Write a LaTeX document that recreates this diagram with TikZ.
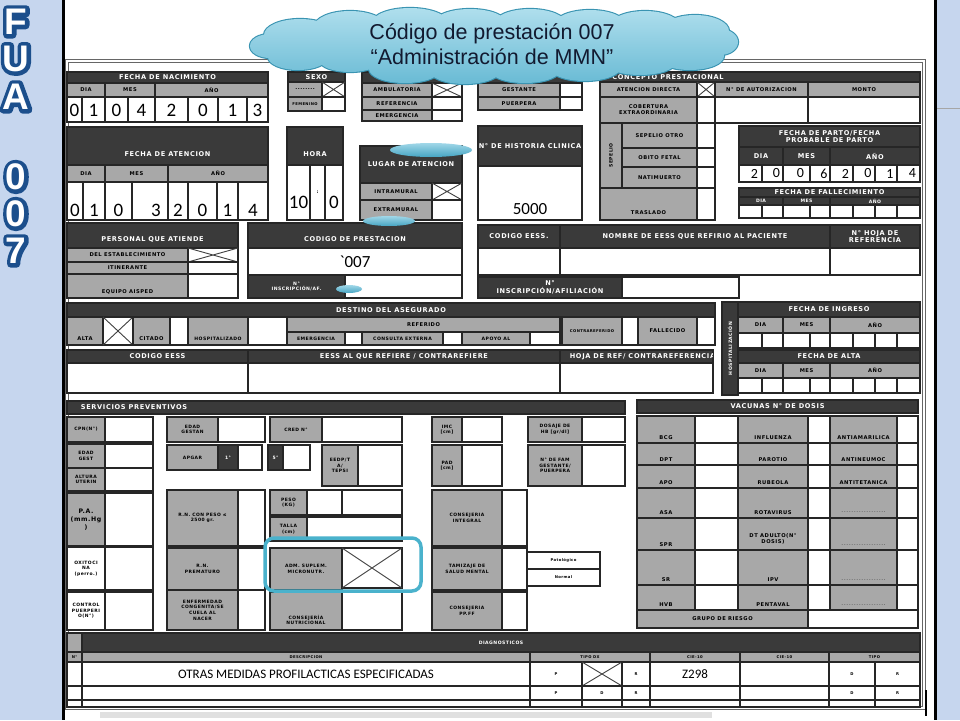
\documentclass[tikz,border=0pt]{standalone}
\usepackage{fontspec}
\setmainfont{Liberation Sans}
\newfontfamily\lab[LetterSpace=10]{DejaVu Sans}
\newfontfamily\digf{Carlito}
\newfontfamily\arialf{Liberation Sans}
\usetikzlibrary{calc}
\definecolor{bgblue}{RGB}{198,214,238}
\definecolor{hdr}{RGB}{58,58,58}
\definecolor{lgrey}{RGB}{168,168,168}
\definecolor{edge}{RGB}{38,38,38}
\definecolor{cyanbox}{RGB}{74,178,204}
\definecolor{cloudtop}{RGB}{178,224,238}
\definecolor{cloudbot}{RGB}{104,186,212}
\definecolor{cloudedge}{RGB}{58,148,178}
\definecolor{navy}{RGB}{18,26,48}
\definecolor{fuablue}{RGB}{28,78,140}
\definecolor{elltop}{RGB}{160,215,232}
\definecolor{ellbot}{RGB}{70,165,195}

\newcount\cellno
\newcommand\fcell[7][]{%
  \path[#2] (#3,#4) rectangle (#5,#6);
  \global\advance\cellno by 1\relax
  \node[#2t,#1] (c\the\cellno) at ({(#3+#5)/2},{(#4+#6)/2}) {#7};%
}
\newcommand\fxbox[4]{%
  \path[wh] (#1,#2) rectangle (#3,#4);
  \draw[crossline] (#1,#2) -- (#3,#4) (#1,#4) -- (#3,#2);%
}
\newcommand\cliphdr[6][]{%
  \path[dk] (#2,#3) rectangle (#4,#5);
  \begin{scope}
    \clip (#2+1,#3+1) rectangle (#4-1,#5-1);
    \global\advance\cellno by 1\relax
    \node[dkt,#1] (c\the\cellno) at ({(#2+#4)/2},{(#3+#5)/2}) {#6};
  \end{scope}%
}
\newcommand\dotsf{\textcolor{black!55}{..................}}
\newcommand\vacrow[5]{%
  \pgfmathsetmacro\vys{-((#2-#1)/2-5.5)}%
  \fcell[yshift=\vys]{gr}{637}{#1}{695}{#2}{#3}
  \fcell{wh}{695}{#1}{738}{#2}{}
  \fcell[yshift=\vys]{gr}{738}{#1}{808}{#2}{#4}
  \fcell{wh}{808}{#1}{830}{#2}{}
  \fcell[yshift=\vys]{gr}{830}{#1}{897}{#2}{#5}
  \fcell{wh}{897}{#1}{918}{#2}{}%
}
\newcommand\outl[1]{\rlap{\special{pdf:literal direct 2 Tr 8 w 1 j 0.11 0.31 0.55 RG}#1\special{pdf:literal direct 0 Tr}}#1}
\newcommand\cloudpuffs{(300,35) ellipse [x radius=36,y radius=16]
  (350,27) ellipse [x radius=36,y radius=16]
  (410,23) ellipse [x radius=38,y radius=15]
  (470,23) ellipse [x radius=36,y radius=14]
  (530,24) ellipse [x radius=36,y radius=15]
  (590,25) ellipse [x radius=36,y radius=15]
  (645,27) ellipse [x radius=36,y radius=16]
  (695,31) ellipse [x radius=34,y radius=16]
  (298,57) ellipse [x radius=30,y radius=13]
  (350,61) ellipse [x radius=30,y radius=11]
  (405,69) ellipse [x radius=36,y radius=14]
  (465,70) ellipse [x radius=36,y radius=14]
  (525,69) ellipse [x radius=36,y radius=14]
  (585,67) ellipse [x radius=36,y radius=14]
  (640,62) ellipse [x radius=36,y radius=13]
  (690,56) ellipse [x radius=34,y radius=14]
  (270,46) ellipse [x radius=20,y radius=12]
  (720,42) ellipse [x radius=18,y radius=13]
  (494,45) ellipse [x radius=225,y radius=24]}

\begin{document}
\begin{tikzpicture}[x=1pt,y=-1pt,
  dk/.style={fill=hdr,draw=edge,line width=1.1},
  gr/.style={fill=lgrey,draw=edge,line width=1.1},
  wh/.style={fill=white,draw=edge,line width=1.1},
  dkt/.style={text=white,font=\lab\bfseries\fontsize{6.6}{7.4}\selectfont,align=center,inner sep=0pt},
  grt/.style={text=black,font=\lab\bfseries\fontsize{5.2}{6.2}\selectfont,align=center,inner sep=0pt},
  wht/.style={text=black,font=\digf\fontsize{19}{19}\selectfont,align=center,inner sep=0pt},
  sm/.style={font=\lab\bfseries\fontsize{4.6}{5.4}\selectfont},
  xs/.style={font=\lab\bfseries\fontsize{3.8}{4.6}\selectfont},
  sv/.style={font=\lab\bfseries\fontsize{4.5}{5.6}\selectfont},
  pa/.style={font=\lab\bfseries\fontsize{6.2}{8}\selectfont},
  dsmall/.style={font=\digf\fontsize{14}{14}\selectfont},
  desctxt/.style={font=\digf\fontsize{13}{13}\selectfont},
  crossline/.style={draw=black!75,line width=0.9},
  fuaf/.style={font=\arialf\bfseries\fontsize{37}{37}\selectfont,inner sep=0pt,text=white},
]
\useasboundingbox (0,0) rectangle (960,720);
% background and page
\fill[bgblue] (0,0) rectangle (960,720);
\fill[white] (63,0) rectangle (935,720);
\draw[black,line width=3] (63.5,0) -- (63.5,720);
\draw[black,line width=3] (935,0) -- (935,720);
\draw[black!35,line width=1] (937,108) -- (960,108);
% FUA 007
\node[fuaf] (lf) at (16,22) {\outl{F}};
\node[fuaf] (lu) at (16,59) {\outl{U}};
\node[fuaf] (la) at (16,97) {\outl{A}};
\node[fuaf] (ln1) at (16,177) {\outl{0}};
\node[fuaf] (ln2) at (16,214) {\outl{0}};
\node[fuaf] (ln3) at (16,251) {\outl{7}};
% form frame
\draw[black!60,line width=0.8,double=white,double distance=2] (67,61) rectangle (924,708);
\fill[black!12] (100,712) rectangle (712,718);
\draw[black,line width=2] (926,690) -- (926,716);

% ---- Row 1
\fcell{dk}{67}{72}{268}{83}{FECHA DE NACIMIENTO}
\fcell{gr}{67}{83}{105}{97}{DIA}
\fcell{gr}{105}{83}{155}{97}{MES}
\fcell{gr}{155}{83}{268}{97}{AÑO}
\foreach \a/\b/\d in {67/82/0,82/105/1,105/128/0,128/155/4,155/188/2,188/218/0,218/247/1,247/268/3}{\fcell[yshift=-1]{wh}{\a}{97}{\b}{122}{\d}}

\fcell{dk}{288}{72}{345}{82}{SEXO}
\fcell{gr}{288}{82}{322}{97}{........}
\fxbox{322}{82}{345}{97}
\fcell[xs]{gr}{288}{97}{322}{111}{FEMENINO}
\fcell{wh}{322}{97}{345}{111}{}

\fcell{dk}{362}{72}{462}{83}{}
\fcell{gr}{362}{83}{432}{97}{AMBULATORIA}
\fxbox{432}{83}{462}{97}
\fcell{gr}{362}{97}{432}{110}{REFERENCIA}
\fcell{wh}{432}{97}{462}{110}{}
\fcell{gr}{362}{110}{432}{121}{EMERGENCIA}
\fcell{wh}{432}{110}{462}{121}{}

\fcell{dk}{478}{72}{582}{83}{}
\fcell{gr}{478}{83}{560}{97}{GESTANTE}
\fcell{wh}{560}{83}{582}{97}{}
\fcell{gr}{478}{97}{560}{110}{PUERPERA}
\fcell{wh}{560}{97}{582}{110}{}

\fcell[xshift=-92]{dk}{600}{72}{920}{82}{CONCEPTO PRESTACIONAL}
\fcell{gr}{600}{82}{697}{97}{ATENCION DIRECTA}
\fxbox{697}{82}{715}{97}
\fcell{gr}{715}{82}{808}{97}{N° DE AUTORIZACION}
\fcell{gr}{808}{82}{920}{97}{MONTO}
\fcell{gr}{600}{97}{697}{123}{COBERTURA\\EXTRAORDINARIA}
\fcell{wh}{697}{97}{715}{123}{}
\fcell{wh}{715}{97}{808}{123}{}
\fcell{wh}{808}{97}{920}{123}{}
\fcell[rotate=90,sm]{gr}{600}{123}{622}{188}{SEPELIO}
\fcell{gr}{622}{123}{697}{148}{SEPELIO OTRO}
\fcell{wh}{697}{123}{715}{148}{}
\fcell{gr}{622}{148}{697}{167}{OBITO FETAL}
\fcell{wh}{697}{148}{715}{167}{}
\fcell{gr}{622}{167}{697}{188}{NATIMUERTO}
\fcell{wh}{697}{167}{715}{188}{}
\fcell[yshift=-9]{gr}{600}{188}{697}{220}{TRASLADO}
\fcell{wh}{697}{188}{715}{220}{}

\fcell{dk}{739}{126}{920}{147}{FECHA DE PARTO/FECHA\\PROBABLE DE PARTO}
\fcell{dk}{739}{147}{783}{165}{DIA}
\fcell{dk}{783}{147}{830}{165}{MES}
\fcell{dk}{830}{147}{920}{165}{AÑO}
\foreach \a/\b/\d in {739/762/2,762/783/0,783/810/0,810/830/6,830/853/2,853/875/0,875/897/1,897/920/4}{\fcell[dsmall,xshift=4]{wh}{\a}{165}{\b}{182}{\d}}
\fcell{dk}{739}{188}{920}{197}{FECHA DE FALLECIMIENTO}
\fcell[sm]{dk}{739}{197}{783}{205}{DIA}
\fcell[sm]{dk}{783}{197}{830}{205}{MES}
\fcell[sm]{dk}{830}{197}{920}{205}{AÑO}
\foreach \a/\b in {739/762,762/783,783/810,810/830,830/853,853/875,875/897,897/920}{\fcell{wh}{\a}{205}{\b}{218}{}}

\cliphdr{478}{126}{582}{166}{N° DE HISTORIA CLINICA}
\fcell[yshift=-16,font=\digf\fontsize{17}{17}\selectfont]{wh}{478}{166}{582}{220}{5000}

% ---- Row 2
\fcell[yshift=-8]{dk}{67}{127}{268}{165}{FECHA DE ATENCION}
\fcell{gr}{67}{165}{105}{182}{DIA}
\fcell{gr}{105}{165}{168}{182}{MES}
\fcell{gr}{168}{165}{268}{182}{AÑO}
\foreach \a/\b/\d/\s in {67/83/0/0,83/105/1/0,105/132/0/0,132/168/3/6,168/188/2/0,188/217/0/0,217/238/1/0,238/268/4/0}{\fcell[yshift=-9,xshift=\s]{wh}{\a}{182}{\b}{220}{\d}}

\fcell[yshift=-8]{dk}{287}{127}{343}{165}{HORA}
\fcell[yshift=-10]{wh}{287}{165}{310}{220}{10}
\fcell[sm]{wh}{310}{165}{325}{220}{:}
\fcell[yshift=-10]{wh}{325}{165}{343}{220}{0}

\cliphdr{360}{146}{462}{183}{LUGAR DE ATENCION}
\fcell{gr}{360}{183}{432}{200}{INTRAMURAL}
\fxbox{432}{183}{462}{200}
\fcell{gr}{360}{200}{432}{220}{EXTRAMURAL}
\fcell{wh}{432}{200}{462}{220}{}

% ---- Row 3
\fcell[yshift=-4]{dk}{67}{223}{238}{248}{PERSONAL QUE ATIENDE}
\fcell{gr}{67}{248}{188}{262}{DEL ESTABLECIMIENTO}
\fxbox{188}{248}{238}{262}
\fcell{gr}{67}{262}{188}{274}{ITINERANTE}
\fcell{wh}{188}{262}{238}{274}{}
\fcell[yshift=-6]{gr}{67}{274}{188}{298}{EQUIPO AISPED}
\fcell{wh}{188}{274}{238}{298}{}

\fcell[yshift=-4]{dk}{248}{223}{462}{248}{CODIGO DE PRESTACION}
\fcell[font=\digf\fontsize{17}{17}\selectfont]{wh}{248}{248}{462}{275}{`007}
\fcell[sm]{dk}{248}{275}{345}{298}{N°\\INSCRIPCIÓN/AF.}
\fcell{wh}{345}{275}{462}{298}{}

\fcell{dk}{478}{225}{560}{248}{CODIGO EESS.}
\fcell{dk}{560}{225}{830}{248}{NOMBRE DE EESS QUE REFIRIO AL PACIENTE}
\fcell{dk}{830}{225}{920}{248}{N° HOJA DE\\REFERENCIA}
\fcell{wh}{478}{248}{560}{275}{}
\fcell{wh}{560}{248}{830}{275}{}
\fcell{wh}{830}{248}{920}{275}{}
\fcell{dk}{478}{277}{622}{298}{N°\\INSCRIPCIÓN/AFILIACIÓN}
\fcell{wh}{622}{277}{739}{298}{}

% ---- Row 4
\fcell{dk}{67}{303}{715}{317}{DESTINO DEL ASEGURADO}
\fcell[yshift=-8]{gr}{67}{317}{103}{345}{ALTA}
\fxbox{103}{317}{133}{345}
\fcell[yshift=-8]{gr}{133}{317}{170}{345}{CITADO}
\fcell{wh}{170}{317}{188}{345}{}
\fcell[yshift=-8,sm]{gr}{188}{317}{248}{345}{HOSPITALIZADO}
\fcell{wh}{248}{317}{287}{345}{}
\fcell{gr}{287}{317}{560}{332}{REFERIDO}
\fcell[sm]{gr}{287}{332}{345}{345}{EMERGENCIA}
\fcell{wh}{345}{332}{362}{345}{}
\fcell[sm]{gr}{362}{332}{443}{345}{CONSULTA EXTERNA}
\fcell{wh}{443}{332}{462}{345}{}
\fcell[sm]{gr}{462}{332}{530}{345}{APOYO AL}
\fcell{wh}{530}{332}{560}{345}{}
\fcell[xs]{gr}{562}{317}{622}{345}{CONTRAREFERIDO}
\fcell{wh}{622}{317}{638}{345}{}
\fcell{gr}{638}{317}{697}{345}{FALLECIDO}
\fcell{wh}{697}{317}{715}{345}{}

\fcell[rotate=90,sm]{dk}{722}{302}{738}{395}{HOSPITALIZACIÓN}
\fcell{dk}{738}{302}{920}{317}{FECHA DE INGRESO}
\fcell{gr}{738}{317}{783}{333}{DIA}
\fcell{gr}{783}{317}{830}{333}{MES}
\fcell{gr}{830}{317}{920}{333}{AÑO}
\foreach \a/\b in {738/762,762/783,783/810,810/830,830/853,853/875,875/897,897/920}{\fcell{wh}{\a}{333}{\b}{348}{}}
\fcell{dk}{738}{350}{920}{363}{FECHA DE ALTA}
\fcell{gr}{738}{363}{783}{378}{DIA}
\fcell{gr}{783}{363}{830}{378}{MES}
\fcell{gr}{830}{363}{920}{378}{AÑO}
\foreach \a/\b in {738/762,762/783,783/810,810/830,830/853,853/875,875/897,897/920}{\fcell{wh}{\a}{378}{\b}{393}{}}

% ---- Row 5
\fcell{dk}{67}{350}{248}{363}{CODIGO EESS}
\fcell{wh}{67}{363}{248}{393}{}
\fcell{dk}{248}{350}{560}{363}{EESS AL QUE REFIERE / CONTRAREFIERE}
\fcell{wh}{248}{363}{560}{393}{}
\cliphdr[xshift=6]{560}{350}{713}{363}{HOJA DE REF/ CONTRAREFERENCIA}
\fcell{wh}{560}{363}{713}{393}{}

% ---- Servicios preventivos
\fcell[xshift=-212]{dk}{67}{401}{625}{414}{SERVICIOS PREVENTIVOS}
\fcell[sv]{gr}{67}{417}{105}{442}{CPN(N°)}
\fcell{wh}{105}{417}{153}{442}{}
\fcell[sv]{gr}{67}{444}{105}{468}{EDAD\\GEST}
\fcell{wh}{105}{444}{153}{468}{}
\fcell[sv]{gr}{67}{468}{105}{491}{ALTURA\\UTERIN}
\fcell{wh}{105}{468}{153}{491}{}
\fcell[pa]{gr}{67}{493}{105}{546}{P.A.\\(mm.Hg\\)}
\fcell{wh}{105}{493}{153}{546}{}
\fcell[sv]{wh}{67}{547}{105}{590}{OXITOCI\\NA\\(perro.)}
\fcell{wh}{105}{547}{153}{590}{}
\fcell[sv]{wh}{67}{592}{105}{630}{CONTROL\\PUERPERI\\O(N°)}
\fcell{wh}{105}{592}{153}{630}{}

\fcell[sv]{gr}{167}{417}{218}{442}{EDAD\\GESTAN}
\fcell{wh}{218}{417}{265}{442}{}
\fcell[sv]{gr}{167}{445}{218}{470}{APGAR}
\fcell[sv]{dk}{218}{445}{238}{470}{1°}
\fcell{wh}{238}{445}{262}{470}{}
\fcell[sv]{dk}{268}{445}{283}{470}{5°}
\fcell{wh}{283}{445}{310}{470}{}
\fcell[sv]{gr}{167}{490}{238}{546}{R.N. CON PESO ≤\\2500 gr.}
\fcell{wh}{238}{490}{265}{546}{}
\fcell[sv]{gr}{167}{548}{238}{590}{R.N.\\PREMATURO}
\fcell{wh}{238}{548}{265}{590}{}
\fcell[sv]{gr}{167}{590}{238}{630}{ENFERMEDAD\\CONGENITA/SE\\CUELA AL\\NACER}
\fcell{wh}{238}{590}{265}{630}{}

\fcell[sv]{gr}{270}{417}{322}{442}{CRED N°}
\fcell{wh}{322}{417}{402}{442}{}
\fcell[sv]{gr}{322}{445}{358}{486}{EEDP/T\\A/\\TEPSI}
\fcell{wh}{358}{445}{402}{486}{}
\fcell[sv]{gr}{270}{490}{307}{515}{PESO\\(KG)}
\fcell{wh}{307}{490}{342}{515}{}
\fcell{wh}{342}{490}{402}{515}{}
\fcell[sv]{gr}{270}{517}{307}{541}{TALLA\\(cm)}
\fcell{wh}{307}{517}{402}{541}{}
\fcell[sv]{gr}{270}{548}{342}{590}{ADM. SUPLEM.\\MICRONUTR.}
\fxbox{342}{548}{402}{588}
\fcell[sv,yshift=-9]{gr}{270}{592}{342}{630}{CONSEJERÍA\\NUTRICIONAL}
\fcell{wh}{342}{592}{402}{630}{}

\fcell[sv]{gr}{432}{417}{462}{442}{IMC\\{[cm]}}
\fcell{wh}{462}{417}{502}{442}{}
\fcell[sv]{gr}{432}{445}{462}{486}{PAD\\{[cm]}}
\fcell{wh}{462}{445}{502}{486}{}
\fcell[sv]{gr}{432}{490}{502}{546}{CONSEJERIA\\INTEGRAL}
\fcell{wh}{502}{490}{527}{546}{}
\fcell[sv]{gr}{432}{548}{502}{590}{TAMIZAJE DE\\SALUD MENTAL}
\fcell{wh}{502}{548}{527}{590}{}
\fcell[xs]{wh}{527}{552}{600}{569}{Patológico}
\fcell[xs]{wh}{527}{569}{600}{586}{Normal}
\fcell[sv]{gr}{432}{592}{502}{630}{CONSEJERIA\\PP.FF}
\fcell{wh}{502}{592}{527}{630}{}

\fcell[sv]{gr}{528}{417}{582}{442}{DOSAJE DE\\HB [gr/dl]}
\fcell{wh}{582}{417}{625}{442}{}
\fcell[sv]{gr}{528}{445}{582}{486}{N° DE FAM\\GESTANTE/\\PUERPERA}
\fcell{wh}{582}{445}{625}{486}{}

\draw[cyanbox,line width=3.5,rounded corners=9] (265,538) rectangle (421,591);

% ---- Vacunas
\fcell{dk}{637}{400}{918}{413}{VACUNAS N° DE DOSIS}
\vacrow{416}{443}{BCG}{INFLUENZA}{ANTIAMARILICA}
\vacrow{443}{465}{DPT}{PAROTIO}{ANTINEUMOC}
\vacrow{465}{488}{APO}{RUBEOLA}{ANTITETANICA}
\vacrow{488}{518}{ASA}{ROTAVIRUS}{\dotsf}
\vacrow{518}{550}{SPR}{}{\dotsf}
\node[grt] (dtadulto) at (773,539) {DT ADULTO(N°\\DOSIS)};
\vacrow{550}{585}{SR}{IPV}{\dotsf}
\vacrow{585}{610}{HVB}{PENTAVAL}{\dotsf}
\fcell{gr}{637}{610}{808}{628}{GRUPO DE RIESGO}
\fcell{wh}{808}{610}{918}{628}{}

% ---- Diagnosticos
\fcell{gr}{67}{633}{82}{652}{}
\fcell[sm]{dk}{82}{633}{920}{652}{DIAGNOSTICOS}
\fcell[xs]{gr}{67}{652}{82}{662}{N°}
\fcell[xs]{gr}{82}{652}{530}{662}{DESCRIPCION}
\fcell[xs]{gr}{530}{652}{650}{662}{TIPO DX}
\fcell[xs]{gr}{650}{652}{740}{662}{CIE-10}
\fcell[xs]{gr}{740}{652}{829}{662}{CIE-10}
\fcell[xs]{gr}{829}{652}{920}{662}{TIPO}
\fcell{wh}{67}{662}{82}{686}{}
\fcell[desctxt]{wh}{82}{662}{530}{686}{OTRAS MEDIDAS PROFILACTICAS ESPECIFICADAS}
\fcell[xs]{wh}{530}{662}{582}{686}{P}
\fxbox{582}{662}{622}{686}
\fcell[xs]{wh}{622}{662}{650}{686}{R}
\fcell[desctxt]{wh}{650}{662}{740}{686}{Z298}
\fcell{wh}{740}{662}{829}{686}{}
\fcell[xs]{wh}{829}{662}{875}{686}{D}
\fcell[xs]{wh}{875}{662}{920}{686}{R}
\foreach \a/\b/\t in {67/82/,82/530/,530/582/P,582/622/D,622/650/R,650/740/,740/829/,829/875/D,875/920/R}{\fcell[xs]{wh}{\a}{686}{\b}{700}{\t}}
\foreach \a/\b in {67/82,82/530,530/582,582/622,622/650,650/740,740/829,829/875,875/920}{\fcell{wh}{\a}{700}{\b}{707}{}}

% ---- callout ellipses
\shade[top color=elltop,bottom color=ellbot] (431,150) ellipse [x radius=41,y radius=7];
\shade[top color=elltop,bottom color=ellbot] (389,221) ellipse [x radius=26,y radius=5];
\shade[top color=elltop,bottom color=ellbot] (349,289) ellipse [x radius=13,y radius=4];

% ---- cloud callout
\draw[cloudedge,line width=2.2] \cloudpuffs;
\begin{scope}
  \clip \cloudpuffs;
  \shade[top color=cloudtop,bottom color=cloudbot] (240,5) rectangle (750,85);
\end{scope}
\node[font=\arialf\fontsize{21.5}{25}\selectfont,text=navy,align=center,inner sep=0pt] (title) at (492,44) {Código de prestación 007\\“Administración de MMN”};
\end{tikzpicture}
\end{document}
